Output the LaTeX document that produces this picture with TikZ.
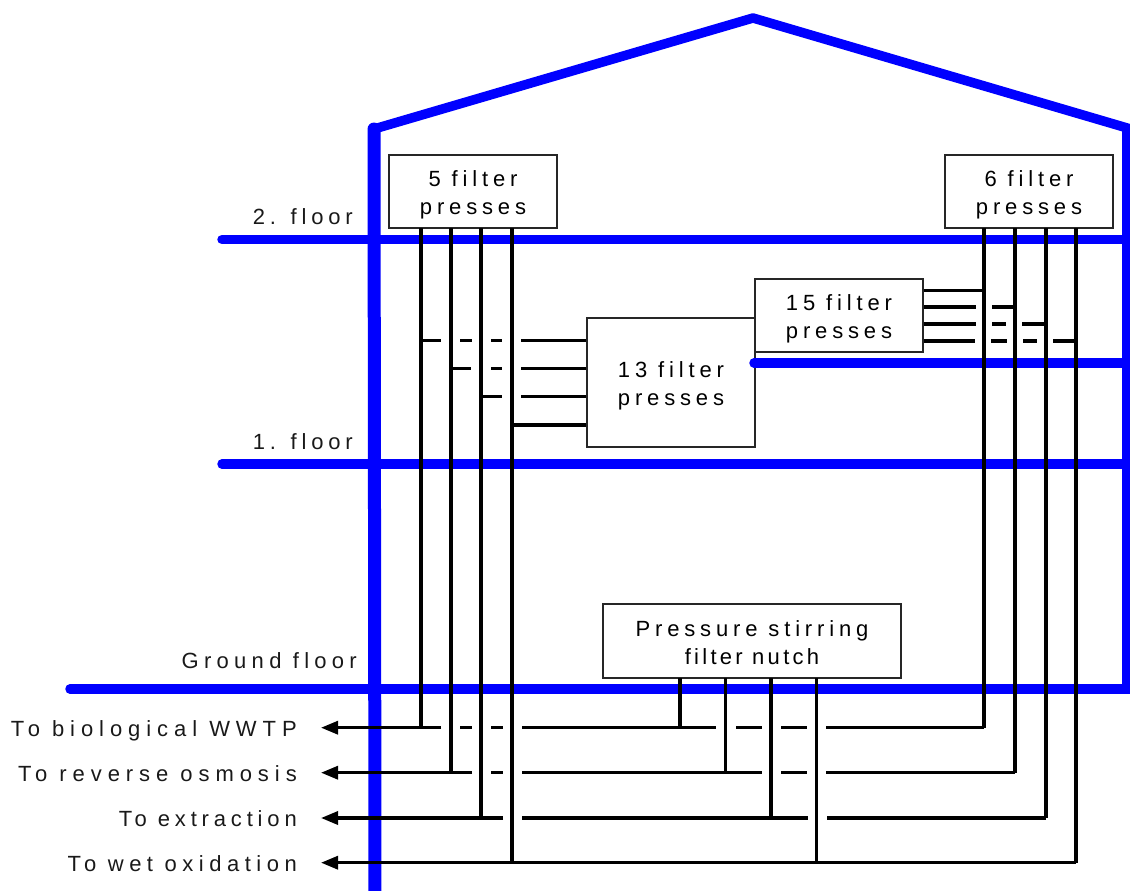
\documentclass[tikz,border=0pt]{standalone}
\usepackage{fontspec}
\setmainfont[LetterSpace=22]{Liberation Sans}
\newfontfamily\spacedA[LetterSpace=27]{Liberation Sans}
\newfontfamily\spacedB[LetterSpace=25]{Liberation Sans}
\newfontfamily\spacedC[LetterSpace=24]{Liberation Sans}
\newfontfamily\spacedD[LetterSpace=15]{Liberation Sans}
\newcommand{\lowerit}{\rule{0pt}{23pt}}
\usetikzlibrary{arrows.meta}
\tikzset{
  wall/.style={draw=blue,line width=9.5pt,line cap=round},
  frame/.style={draw=blue,line width=13pt,line cap=round},
  pressbox/.style={draw=black!85,line width=1.3pt,fill=white,align=center,inner sep=0pt,font=\fontsize{22}{28.5}\selectfont},
  wire/.style={draw=black,line width=3.3pt},
  riser/.style={draw=black,line width=4pt},
  label/.style={inner sep=0pt,font=\fontsize{22}{24}\selectfont,text=black!90},
  flow/.style={wire,-{Triangle[length=17pt,width=13pt]}},
}
\begin{document}
\begin{tikzpicture}[x=1pt,y=-1pt]
\useasboundingbox (0,0) rectangle (1130,891);
\clip (0,0) rectangle (1130,891);
% building
\coordinate (apexL) at (374,129);
\coordinate (apex) at (753,18);
\coordinate (apexR) at (1134,130);
\coordinate (footL) at (375,895);
\coordinate (g0) at (70,689);
\coordinate (gR) at (1130,689);
\coordinate (f1) at (222,464);
\coordinate (f1R) at (1130,464);
\coordinate (f2) at (222,239.5);
\coordinate (f2R) at (1130,239.5);
\coordinate (m) at (754,363);
\coordinate (mR) at (1130,363);
\draw[wall,line join=round] (apexL) -- (apex) -- (apexR);
\draw[frame] (apexL) -- (footL);
\draw[draw=blue,line width=8pt] (1126,130) -- (1126,693);
\draw[wall] (f2) -- (f2R);
\draw[wall] (f1) -- (f1R);
\draw[wall] (g0) -- (gR);
% boxes
\node[pressbox,minimum width=168pt,minimum height=73pt] (b5) at (473,191.5) {\lowerit 5 filter\\presses};
\node[pressbox,minimum width=168pt,minimum height=73pt] (b6) at (1029,191.5) {\lowerit 6 filter\\presses};
\node[pressbox,minimum width=168pt,minimum height=73pt] (b15) at (839,315.5) {\lowerit 15 filter\\presses};
\node[pressbox,minimum width=168pt,minimum height=129pt] (b13) at (671,382.5) {\lowerit 13 filter\\presses};
\node[pressbox,minimum width=298pt,minimum height=74pt] (bn) at (752,641) {\rule{0pt}{19pt}Pressure stirring\\{\spacedD filter nutch}};
\draw[wall] (m) -- (mR);
% labels
\node[label,anchor=base east] (l2) at (353,224) {2. floor};
\node[label,anchor=base east] (l1) at (353,449) {1. floor};
\node[label,anchor=base east] (l0) at (357,668) {\spacedC Ground floor};
\node[label,anchor=base east] (t1) at (297,736) {\spacedA To biological WWTP};
\node[label,anchor=base east] (t2) at (297,781) {\spacedA To reverse osmosis};
\node[label,anchor=base east] (t3) at (297,826) {To extraction};
\node[label,anchor=base east] (t4) at (297,871) {\spacedB To wet oxidation};
% arrow ends
\coordinate (a1) at (321,727.7);
\coordinate (a2) at (321,772.7);
\coordinate (a3) at (321,818);
\coordinate (a4) at (321,862.7);
% risers from 5 and 6 filter presses
\coordinate (A1) at (421,228); \coordinate (A1b) at (421,727.7);
\coordinate (A2) at (451,228); \coordinate (A2b) at (451,772.7);
\coordinate (A3) at (481.3,228); \coordinate (A3b) at (481.3,818);
\coordinate (A4) at (512,228); \coordinate (A4b) at (512,862.7);
\coordinate (B1) at (984,228); \coordinate (B1b) at (984,727.7);
\coordinate (B2) at (1015,228); \coordinate (B2b) at (1015,772.7);
\coordinate (B3) at (1046,228); \coordinate (B3b) at (1046,818);
\coordinate (B4) at (1076,228); \coordinate (B4b) at (1076,862.7);
\draw[riser] (A1) -- (A1b);
\draw[riser] (A2) -- (A2b);
\draw[riser] (A3) -- (A3b);
\draw[riser] (A4) -- (A4b);
\draw[riser] (B1) -- (B1b);
\draw[riser] (B2) -- (B2b);
\draw[riser] (B3) -- (B3b);
\draw[riser] (B4) -- (B4b);
\draw[wire] (B1b) -- (826,727.7);
\draw[wire] (B2b) -- (826,772.7);
\draw[wire] (B3b) -- (827,818);
\draw[wire] (B4b) -- (a4 -| A4);
% nutch risers
\coordinate (N1) at (680,678); \coordinate (N1b) at (680,727.7);
\coordinate (N2) at (725.5,678); \coordinate (N2b) at (725.5,772.7);
\coordinate (N3) at (771,678); \coordinate (N3b) at (771,818);
\coordinate (N4) at (816.5,678); \coordinate (N4b) at (816.5,862.7);
\draw[wire] (N1) -- (N1b);
\draw[wire] (N2) -- (N2b);
\draw[wire] (N3) -- (N3b);
\draw[wire] (N4) -- (N4b);
% bus to the left (arrows)
\draw[flow] (441,727.7) -- (a1);
\draw[flow] (472,772.7) -- (a2);
\draw[flow] (503,818) -- (a3);
\draw[flow] (N4b) -- (a4);
% gapped pieces, row 1
\draw[wire] (460,727.7) -- (472,727.7) (491,727.7) -- (503,727.7) (522,727.7) -- (716,727.7) (736,727.7) -- (762,727.7) (781,727.7) -- (807,727.7);
% row 2
\draw[wire] (491,772.7) -- (503,772.7) (522,772.7) -- (762,772.7) (781,772.7) -- (807,772.7);
% row 3
\draw[wire] (522,818) -- (808,818);
% 13 filter presses
\draw[wire] (A1 |- 0,340.7) -- (441,340.7) (460,340.7) -- (472,340.7) (491,340.7) -- (502,340.7);
\draw[wire] (521,340.7) -- (b13.west |- 0,340.7);
\draw[wire] (A2 |- 0,368.7) -- (471,368.7) (491,368.7) -- (502,368.7);
\draw[wire] (521,368.7) -- (b13.west |- 0,368.7);
\draw[wire] (A3 |- 0,396.5) -- (502,396.5);
\draw[wire] (521,396.5) -- (b13.west |- 0,396.5);
\draw[wire] (A4 |- 0,425) -- (b13.west |- 0,425);
% 15 filter presses
\draw[wire] (b15.east |- 0,290.3) -- (B1 |- 0,290.3);
\draw[wire] (b15.east |- 0,307) -- (976,307) (992,307) -- (B2 |- 0,307);
\draw[wire] (b15.east |- 0,324) -- (976,324) (992,324) -- (1006,324) (1022,324) -- (B3 |- 0,324);
\draw[wire] (b15.east |- 0,341) -- (975,341) (991,341) -- (1007,341) (1023,341) -- (1037,341) (1053,341) -- (B4 |- 0,341);
\end{tikzpicture}
\end{document}
